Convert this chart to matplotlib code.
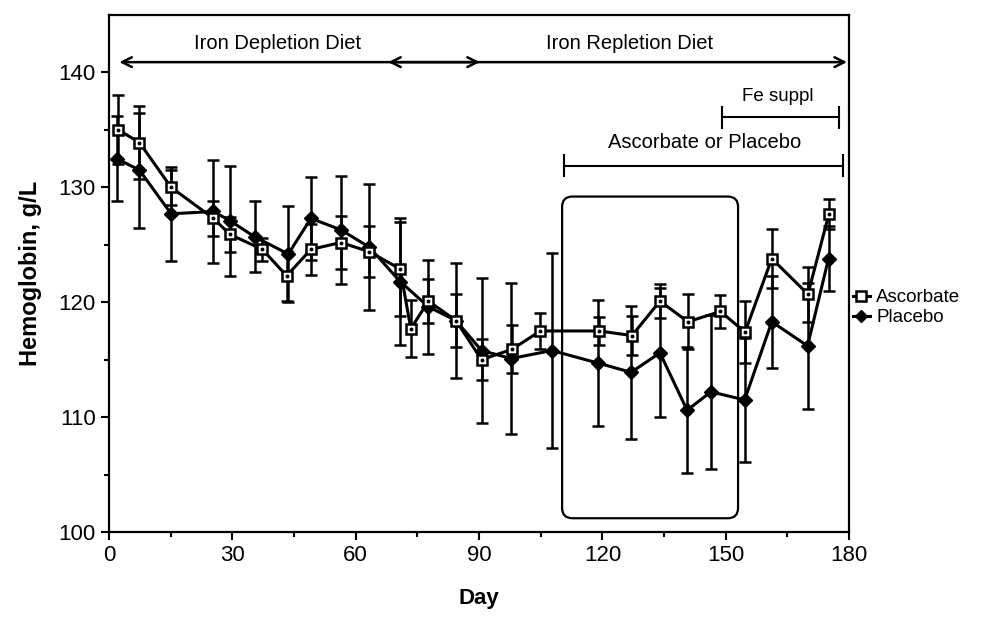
import numpy as np
import matplotlib
matplotlib.use("Agg")
import matplotlib.pyplot as plt
from matplotlib.patches import FancyBboxPatch
from matplotlib.lines import Line2D

plt.rcParams["font.family"] = ["Liberation Sans", "DejaVu Sans"]

# Ascorbate group: day, mean hemoglobin (g/L), SD
asc_day = [2.3, 7.4, 15.1, 25.4, 29.4, 37.3, 43.2, 49.1, 56.4, 63.3, 70.8, 73.4, 77.7,
           84.4, 90.6, 98.0, 104.9, 119.2, 127.2, 134.0, 140.8, 148.7, 154.7, 161.2, 170.0, 175.1]
asc_hb = [135.0, 133.9, 130.0, 127.3, 125.9, 124.6, 122.3, 124.6, 125.2, 124.4, 122.9, 117.7, 120.1,
          118.4, 115.0, 115.9, 117.5, 117.5, 117.1, 120.1, 118.3, 119.2, 117.4, 123.8, 120.7, 127.7]
asc_sd = [3.0, 3.2, 1.5, 1.5, 1.5, 1.0, 2.2, 2.2, 2.3, 2.2, 4.1, 2.5, 1.9,
          2.3, 1.8, 2.1, 1.6, 1.2, 1.7, 1.5, 2.4, 1.4, 2.7, 2.6, 2.4, 1.3]

# Placebo group
plc_day = [1.9, 7.4, 15.1, 25.4, 29.4, 35.4, 43.6, 49.1, 56.4, 63.3, 70.8, 77.7, 84.4,
           90.6, 97.8, 107.7, 119.0, 127.0, 134.0, 140.6, 146.4, 154.6, 161.2, 169.9, 175.0]
plc_hb = [132.5, 131.5, 127.7, 127.9, 127.1, 125.7, 124.2, 127.3, 126.3, 124.8, 121.8, 119.6, 118.4,
          115.8, 115.1, 115.8, 114.7, 113.9, 115.6, 110.6, 112.2, 111.5, 118.3, 116.2, 123.8]
plc_sd = [3.7, 5.0, 4.1, 4.5, 4.8, 3.1, 4.2, 3.6, 4.7, 5.5, 5.5, 4.1, 5.0,
          6.3, 6.6, 8.5, 5.5, 5.8, 5.6, 5.5, 6.7, 5.4, 4.0, 5.5, 2.8]

fig = plt.figure(figsize=(9.85, 6.32), dpi=100)
ax = fig.add_axes([0.1107, 0.1582, 0.7513, 0.8180])
xlim, ylim = (0, 180), (100, 145)
ax.set_xlim(*xlim)
ax.set_ylim(*ylim)

err_kw = dict(color="black", lw=2.2, elinewidth=1.8, capsize=4.5, capthick=1.8)
ax.errorbar(plc_day, plc_hb, yerr=plc_sd, fmt="-D", ms=7, mfc="black", mec="black",
            zorder=3, **err_kw)
ax.errorbar(asc_day, asc_hb, yerr=asc_sd, fmt="-s", ms=7.5, mfc="white", mec="black", mew=1.8,
            zorder=4, **err_kw)
# little dot inside the open squares
ax.plot(asc_day, asc_hb, ls="none", marker="o", ms=1.8, color="black", zorder=5)

# diet period arrows
arrow_y = 140.9
arr = dict(arrowstyle="<->,head_length=0.7,head_width=0.35", lw=1.8, color="black",
           shrinkA=0, shrinkB=0)
ax.annotate("", xy=(2.5, arrow_y), xytext=(90.2, arrow_y), arrowprops=arr)
ax.annotate("", xy=(67.9, arrow_y), xytext=(179.5, arrow_y), arrowprops=arr)
ax.text(40.9, 142.5, "Iron Depletion Diet", ha="center", va="center", fontsize=14.5)
ax.text(126.5, 142.5, "Iron Repletion Diet", ha="center", va="center", fontsize=14.5)

# treatment bars
def bar(x0, x1, y, h=1.0):
    ax.plot([x0, x1], [y, y], color="black", lw=1.5)
    ax.vlines([x0, x1], y - h, y + h, color="black", lw=1.5)

bar(149.0, 177.6, 136.1)
ax.text(162.7, 137.9, "Fe suppl", ha="center", va="center", fontsize=13.5)
bar(110.6, 178.5, 131.9)
ax.text(144.8, 133.9, "Ascorbate or Placebo", ha="center", va="center", fontsize=14.5)

# rounded box
pos = ax.get_position()
px_x = pos.width * 985 / (xlim[1] - xlim[0])
px_y = pos.height * 632 / (ylim[1] - ylim[0])
box = FancyBboxPatch((110.2, 101.2), 153.0 - 110.2, 129.2 - 101.2,
                     boxstyle="round,pad=0,rounding_size=2.5", mutation_aspect=px_x / px_y,
                     fill=False, lw=1.6, ec="black", zorder=2)
ax.add_patch(box)

ax.set_xticks(np.arange(0, 181, 30))
ax.set_xticks(np.arange(15, 180, 30), minor=True)
ax.set_yticks(np.arange(100, 141, 10))
ax.set_yticks(np.arange(105, 141, 10), minor=True)
ax.tick_params(which="major", direction="out", length=6, width=1.5, labelsize=16)
ax.tick_params(which="minor", direction="out", length=3.5, width=1.5)
for s in ax.spines.values():
    s.set_linewidth(1.6)

ax.set_xlabel("Day", fontsize=16, fontweight="bold", labelpad=16)
ax.set_ylabel("Hemoglobin, g/L", fontsize=17, fontweight="bold", labelpad=12)

handles = [
    Line2D([], [], color="black", lw=2.2, marker="s", ms=7, mfc="white", mec="black", mew=1.8),
    Line2D([], [], color="black", lw=2.2, marker="D", ms=6.5, mfc="black", mec="black"),
]
fig.legend(handles, ["Ascorbate", "Placebo"], loc="center left", bbox_to_anchor=(0.866, 0.513),
           frameon=False, fontsize=13.5, handlelength=0.9, handletextpad=0.35,
           labelspacing=0.15, borderpad=0, borderaxespad=0)

fig.savefig("out.png", dpi=100)
